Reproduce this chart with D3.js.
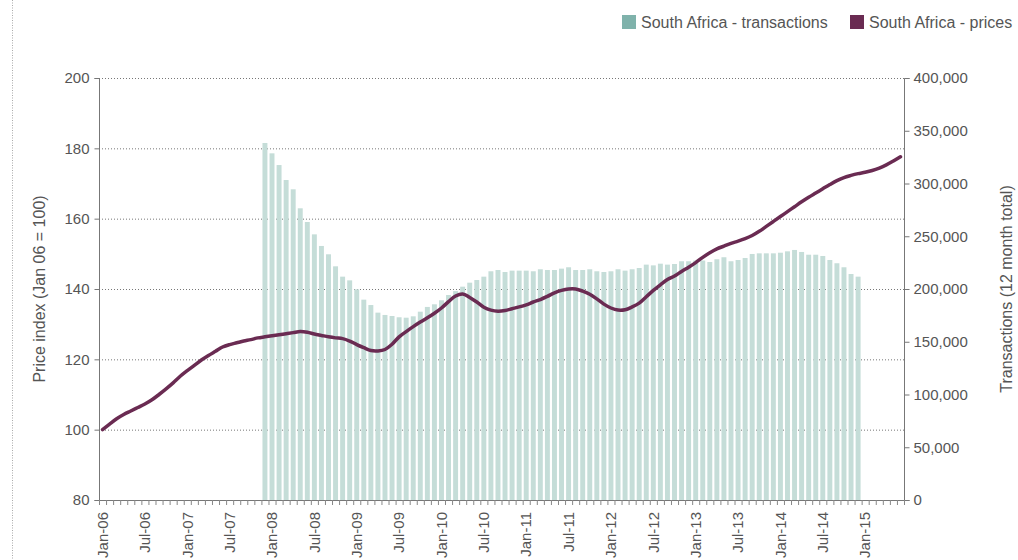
<!DOCTYPE html>
<html><head><meta charset="utf-8">
<script src="https://cdn.jsdelivr.net/npm/d3@7/dist/d3.min.js"></script>
<style>
body{margin:0;background:#fff;}
svg{display:block;font-family:"Liberation Sans",Arial,sans-serif;}
</style></head><body>
<svg id="c" width="1018" height="560"></svg>
<script>
// ---- data ----
const monthNames = ["Jan","Feb","Mar","Apr","May","Jun","Jul","Aug","Sep","Oct","Nov","Dec"];
const months = [];
for (let y = 6; y <= 15; y++) for (let m = 0; m < 12; m++) {
  if (y === 15 && m > 5) break;
  months.push(monthNames[m] + "-" + String(y).padStart(2, "0"));
}
const tickLabels = ["Jan-06","Jul-06","Jan-07","Jul-07","Jan-08","Jul-08","Jan-09","Jul-09","Jan-10","Jul-10","Jan-11","Jul-11","Jan-12","Jul-12","Jan-13","Jul-13","Jan-14","Jul-14","Jan-15"];
const priceTicks = [80,100,120,140,160,180,200];
const transTicks = [0,50000,100000,150000,200000,250000,300000,350000,400000];

// prices, Jan-06 .. Jun-15
const prices = [
 100.0,101.6,103.1,104.3,105.3,106.3,107.3,108.5,110.0,111.6,113.3,115.2,
 116.8,118.3,119.8,121.1,122.3,123.5,124.2,124.7,125.2,125.6,126.1,126.4,
 126.7,127.0,127.3,127.6,127.9,127.7,127.2,126.8,126.4,126.1,125.9,125.2,
 124.2,123.3,122.5,122.4,122.8,124.3,126.4,127.9,129.3,130.6,131.8,133.1,
 134.6,136.4,138.0,138.6,137.6,136.3,134.8,134.0,133.7,133.9,134.4,134.9,
 135.5,136.3,137.0,137.9,138.9,139.6,140.0,140.0,139.4,138.5,137.2,135.7,
 134.6,134.0,134.1,134.9,136.0,137.8,139.6,141.2,142.7,143.7,145.0,146.2,
 147.5,149.0,150.3,151.4,152.2,153.0,153.6,154.3,155.2,156.4,157.8,159.2,
 160.6,162.0,163.4,164.8,166.1,167.3,168.5,169.7,170.8,171.7,172.3,172.8,
 173.2,173.7,174.4,175.3,176.4,177.6
];
// transactions (12 month total), Dec-07 .. Dec-14
const transStart = "Dec-07";
const transactions = [
 338400,
 328600,317500,303300,294500,276500,263500,251800,240800,232900,221500,211700,208200,
 199700,189900,184800,177600,175400,174400,173200,172800,174100,178500,183000,185500,
 189300,194300,198000,202200,206000,208500,211700,216800,218000,216100,217400,217400,
 217400,216800,218700,218000,218000,219300,220600,218000,218000,218700,216800,216100,
 216800,218700,217400,218700,219900,223100,222400,224000,223100,223700,226300,226300,
 227000,227000,225600,228200,230100,226300,227500,229400,233200,233800,233800,233800,
 234400,235700,237000,235100,232500,232500,231300,227500,224400,220600,214200,211700
];
const seriesNames = ["South Africa - transactions","South Africa - prices"];

// ---- chart ----
const svg = d3.select("#c");
const L = 99, R = 904, T = 78, B = 500;
const textCol = "#555";
const step = (R - L) / months.length;

const x = d3.scaleBand().domain(months).range([L, R]).paddingInner(0.3).paddingOuter(0.15);
const yL = d3.scaleLinear().domain([80, 200]).range([B, T]);
const yR = d3.scaleLinear().domain([0, 400000]).range([B, T]);

// left dotted border
svg.append("line").attr("x1", 12.5).attr("x2", 12.5).attr("y1", 0).attr("y2", 560)
  .attr("stroke", "#aaa").attr("stroke-dasharray", "1,1.5");

// gridlines
svg.append("g").selectAll("line").data(priceTicks.filter(d => d > 80)).join("line")
  .attr("x1", L).attr("x2", R).attr("y1", d => yL(d) + 0.5).attr("y2", d => yL(d) + 0.5)
  .attr("stroke", "#777").attr("stroke-dasharray", "1,2");

// bars
const si = months.indexOf(transStart);
svg.append("g").selectAll("rect").data(transactions).join("rect")
  .attr("x", (d, i) => x(months[si + i]))
  .attr("width", x.bandwidth())
  .attr("y", d => yR(d))
  .attr("height", d => B - yR(d))
  .attr("fill", "#c5ddd8");

// line
const line = d3.line()
  .x((d, i) => x(months[i]) + x.bandwidth() / 2)
  .y(d => yL(d))
  .curve(d3.curveCatmullRom.alpha(0.5));
svg.append("path").datum(prices).attr("d", line)
  .attr("fill", "none").attr("stroke", "#6a2b52").attr("stroke-width", 3.5)
  .attr("stroke-linecap", "round").attr("stroke-linejoin", "round");

// left axis
const axL = svg.append("g").attr("transform", `translate(${L + 0.5},0)`)
  .call(d3.axisLeft(yL).tickValues(priceTicks).tickSize(5).tickPadding(5));
// right axis
const axR = svg.append("g").attr("transform", `translate(${R + 0.5},0)`)
  .call(d3.axisRight(yR).tickValues(transTicks).tickSize(5).tickPadding(4)
    .tickFormat(d3.format(",")));
[axL, axR].forEach(g => {
  g.select(".domain").attr("stroke", "#777");
  g.selectAll(".tick line").attr("stroke", "#777");
  g.selectAll("text").attr("fill", textCol).attr("font-size", 15);
});
axL.select(".domain").attr("d", `M-5,${T + 0.5}H0V${B + 0.5}H-5`);
axR.select(".domain").attr("d", `M5,${T + 0.5}H0V${B + 0.5}H5`);

// x axis baseline + month ticks
svg.append("line").attr("x1", L).attr("x2", R).attr("y1", B + 0.5).attr("y2", B + 0.5).attr("stroke", "#777");
svg.append("g").selectAll("line").data(d3.range(months.length + 1)).join("line")
  .attr("x1", i => L + i * step + 0.5).attr("x2", i => L + i * step + 0.5)
  .attr("y1", B).attr("y2", B + 5).attr("stroke", "#888");
const axX = svg.append("g").attr("transform", `translate(0,${B})`)
  .call(d3.axisBottom(x).tickValues(tickLabels).tickSize(0));
axX.select(".domain").remove();
axX.selectAll("text").attr("fill", textCol).attr("font-size", 15)
  .attr("transform", "rotate(-90)").attr("text-anchor", "end")
  .attr("x", -12).attr("y", 0).attr("dy", "0.35em");

// axis titles
svg.append("text").attr("transform", `translate(45,${(T + B) / 2}) rotate(-90)`)
  .attr("text-anchor", "middle").attr("fill", textCol).attr("font-size", 16)
  .text("Price index (Jan 06 = 100)");
svg.append("text").attr("transform", `translate(1012,${(T + B) / 2}) rotate(-90)`)
  .attr("text-anchor", "middle").attr("fill", textCol).attr("font-size", 16)
  .text("Transactions (12 month total)");

// legend
const leg = [{name: seriesNames[0], color: "#7fb2ab", x: 622}, {name: seriesNames[1], color: "#6a2b52", x: 850}];
const lg = svg.append("g").selectAll("g").data(leg).join("g")
  .attr("transform", d => `translate(${d.x},15)`);
lg.append("rect").attr("width", 14).attr("height", 14).attr("fill", d => d.color);
lg.append("text").attr("x", 19).attr("y", 13).attr("fill", textCol).attr("font-size", 16).text(d => d.name);
</script>
</body></html>
